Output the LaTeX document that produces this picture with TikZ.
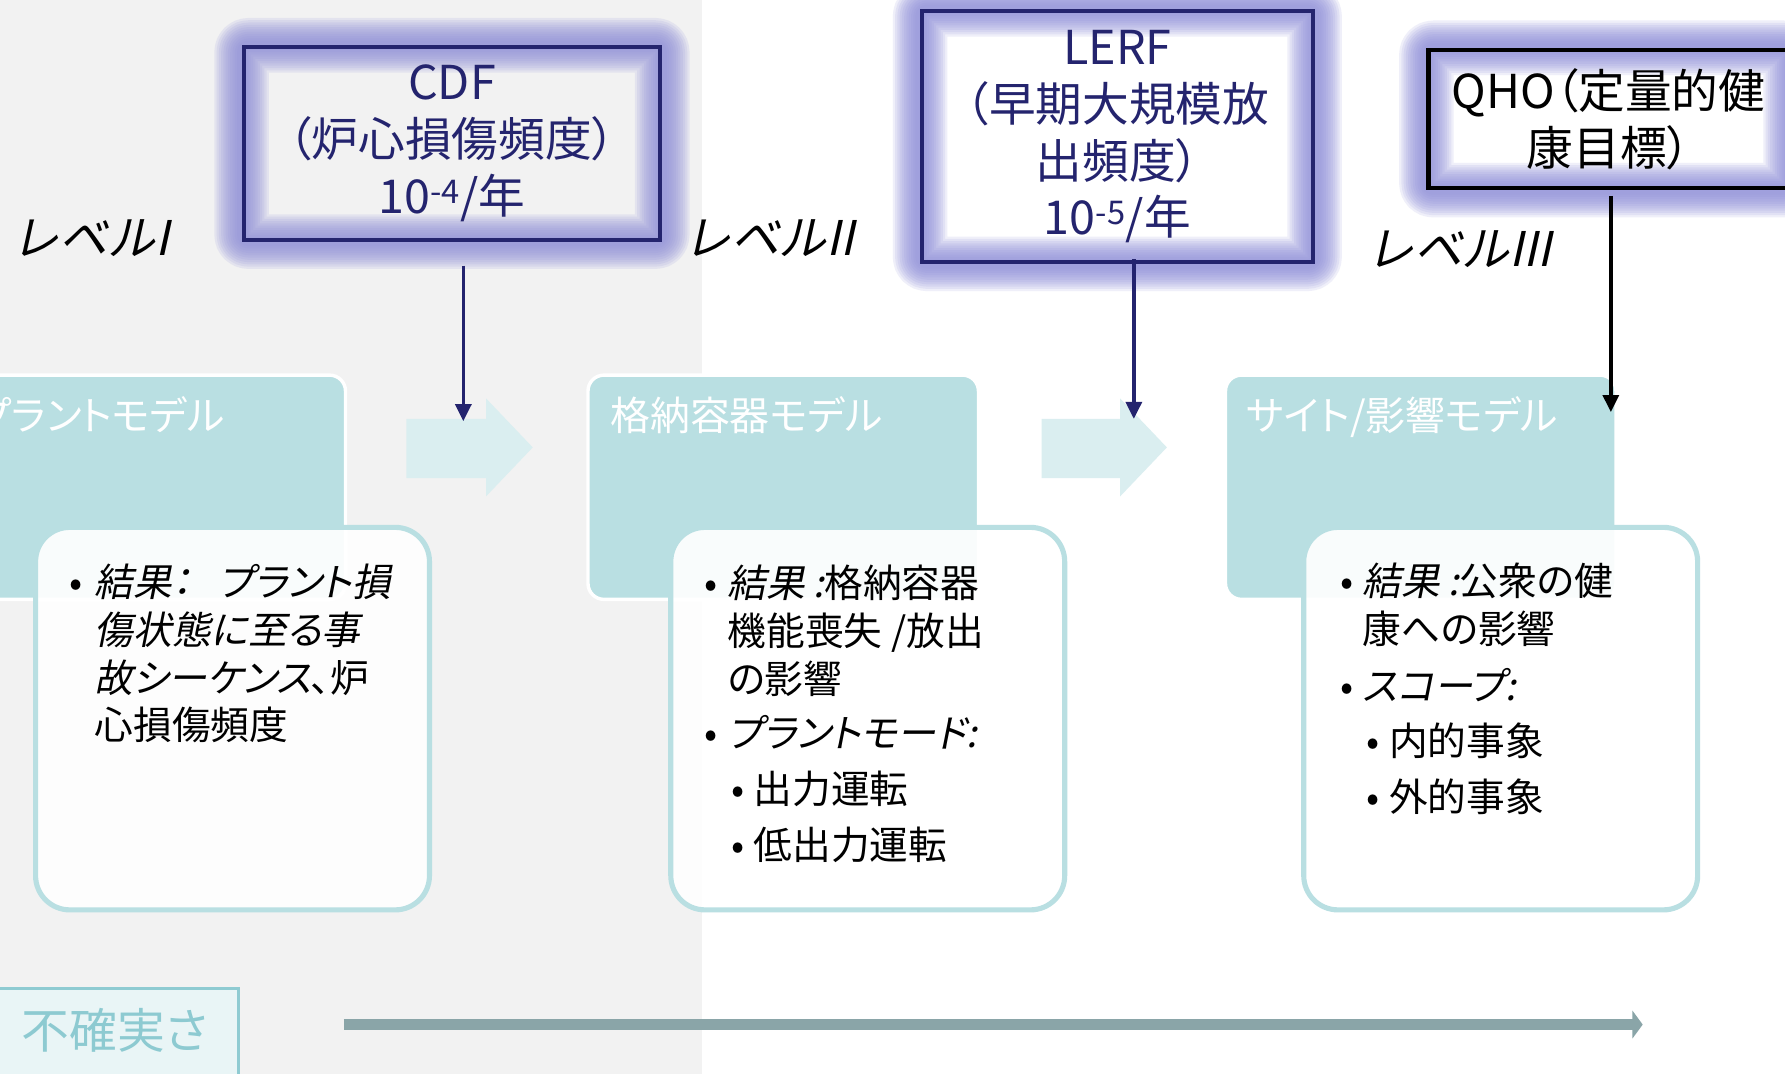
\documentclass[tikz,border=0pt]{standalone}
\usepackage{fontspec}
\setmainfont{Noto Sans CJK JP}[RawFeature=+palt]
\newfontfamily\jpit{Noto Sans CJK JP}[FakeSlant=0.2,RawFeature=+palt]
\newfontfamily\jplvl{Noto Sans CJK JP}[FakeSlant=0.22]
\usetikzlibrary{arrows.meta}
\definecolor{cnavy}{HTML}{24246E}
\definecolor{cglow}{HTML}{8E8ED8}
\definecolor{cteal}{HTML}{B9DFE2}
\definecolor{carrow}{HTML}{DAEEF0}
\definecolor{cgraybg}{HTML}{F2F2F2}
\definecolor{cuncline}{HTML}{8FCBD2}
\definecolor{cuncfill}{HTML}{E9F5F6}
\definecolor{cunctext}{HTML}{8DCAD1}
\definecolor{cbar}{HTML}{8AA5A8}
\pgfdeclarelayer{back}
\pgfdeclarelayer{glowl}
\pgfsetlayers{back,glowl,main}
\begin{document}
\begin{tikzpicture}[x=1pt,y=-1pt,
  titlebox/.style={draw=cnavy, line width=3.5pt, align=center, text=cnavy,
    font=\fontsize{41}{50}\selectfont, inner sep=0pt},
  modelbox/.style={fill=cteal, draw=white, line width=3pt, rounded corners=14pt,
    minimum width=343pt, minimum height=197pt, anchor=north west, inner sep=0pt},
  modeltitle/.style={text=white, font=\fontsize{35}{42}\selectfont, anchor=base west, inner sep=0pt},
  detailbox/.style={fill=white, fill opacity=0.92, draw=cteal, line width=4.5pt,
    rounded corners=30pt, minimum width=346pt, minimum height=336pt, anchor=north west, inner sep=0pt},
  detailtext/.style={align=left, anchor=base west, inner sep=0pt,
    font=\fontsize{34}{42}\selectfont, text=black},
  levellabel/.style={font=\jplvl\fontsize{42}{50}\selectfont, anchor=base west, inner sep=0pt},
  blockarrow/.style={fill=carrow},
  conn/.style={line width=3pt, -{Triangle[length=15pt,width=14pt]}},
  glowline/.style={cglow, line join=round, opacity=0.14, rounded corners=6pt}
]
\useasboundingbox (0,0) rectangle (1568,943);
\clip (0,0) rectangle (1568,943);
\begin{pgfonlayer}{back}
  \fill[white] (0,0) rectangle (1568,943);
  \fill[cgraybg] (0,0) rectangle (617,943);
\end{pgfonlayer}

% block arrows
\fill[blockarrow] (357,368) -- (427,368) -- (427,350) -- (468,393) -- (427,436) -- (427,420) -- (357,420) -- cycle;
\fill[blockarrow] (915,368) -- (984,368) -- (984,350) -- (1025,393) -- (984,436) -- (984,420) -- (915,420) -- cycle;

% model boxes
\node[modelbox] (m1) at (-41,328) {};
\node[modelbox] (m2) at (515,328) {};
\node[modelbox] (m3) at (1075,328) {};
\node[modeltitle] (m1t) at ([xshift=19pt,yshift=-50pt]m1.north west) {プラントモデル};
\node[modeltitle] (m2t) at ([xshift=21pt,yshift=-50pt]m2.north west) {格納容器モデル};
\node[modeltitle] (m3t) at ([xshift=20pt,yshift=-50pt]m3.north west) {サイト/影響モデル};

% detail boxes
\node[detailbox] (d1) at (29,461) {};
\node[detailbox] (d2) at (587,461) {};
\node[detailbox] (d3) at (1143,461) {};

\node[detailtext] (t1) at (61,650) {%
\makebox[22pt][l]{•}{\jpit 結果：\hspace*{24pt}プラント損}\\
\hspace*{22pt}{\jpit 傷状態に至る事}\\
\hspace*{22pt}{\jpit 故シーケンス}、炉\\
\hspace*{22pt}心損傷頻度};

\node[detailtext] (t2) at (619,755) {%
\makebox[20pt][l]{•}{\jpit 結果 :}格納容器\\
\hspace*{20pt}機能喪失 /放出\\
\hspace*{20pt}の影響\\[6pt]
\makebox[20pt][l]{•}{\jpit プラントモード:}\\[7pt]
\hspace*{23pt}\makebox[20pt][l]{•}出力運転\\[7pt]
\hspace*{23pt}\makebox[20pt][l]{•}低出力運転};

\node[detailtext] (t3) at (1177,713) {%
\makebox[20pt][l]{•}{\jpit 結果 :}公衆の健\\
\hspace*{20pt}康への影響\\[8pt]
\makebox[20pt][l]{•}{\jpit スコープ:}\\[7pt]
\hspace*{23pt}\makebox[20pt][l]{•}内的事象\\[7pt]
\hspace*{23pt}\makebox[20pt][l]{•}外的事象};

% title boxes
\node[titlebox, minimum width=366pt, minimum height=169pt] (cdf) at (397,126)
  {CDF\\（炉心損傷頻度）\\10\textsuperscript{-4}/年};
\node[titlebox, minimum width=343pt, minimum height=220pt] (lerf) at (981.5,120)
  {LERF\\（早期大規模放\\出頻度）\\10\textsuperscript{-5}/年};
\node[titlebox, draw=black, text=black, line width=4pt, minimum width=316pt, minimum height=121pt] (qho) at (1413,104.5)
  {QHO（定量的健\\康目標）};

\begin{pgfonlayer}{glowl}
  \foreach \n in {cdf,lerf,qho}{
    \foreach \w in {48,44,...,8}{
      \draw[glowline, line width=\w pt] (\n.south west) rectangle (\n.north east);
    }
  }
\end{pgfonlayer}

% level labels
\node[levellabel] (l1) at (10,224) {レベルI};
\node[levellabel] (l2) at (600,224) {レベルII};
\node[levellabel] (l3) at (1200,234) {レベルIII};

% connectors
\coordinate (cdfend) at (407,370);
\coordinate (lerfend) at (996,368);
\coordinate (qhoend) at (1415,362);
\draw[conn, cnavy] ([xshift=10pt,yshift=-21pt]cdf.south) -- (cdfend);
\draw[conn, cnavy] ([xshift=14.5pt,yshift=4pt]lerf.south) -- (lerfend);
\draw[conn, black] ([xshift=2pt,yshift=-5pt]qho.south) -- (qhoend);

% uncertainty
\node[draw=cuncline, fill=cuncfill, line width=3pt, minimum width=213pt, minimum height=100pt, anchor=north west, inner sep=0pt] (unc) at (-5,867) {};
\node[text=cunctext, font=\fontsize{42}{50}\selectfont, inner sep=0pt] (unct) at (101,905) {不確実さ};
\coordinate (barstart) at (302,900);
\coordinate (barend) at (1443,900);
\draw[cbar, line width=10pt, -{Triangle[length=9pt,width=24pt]}] (barstart) -- (barend);
\end{tikzpicture}
\end{document}
